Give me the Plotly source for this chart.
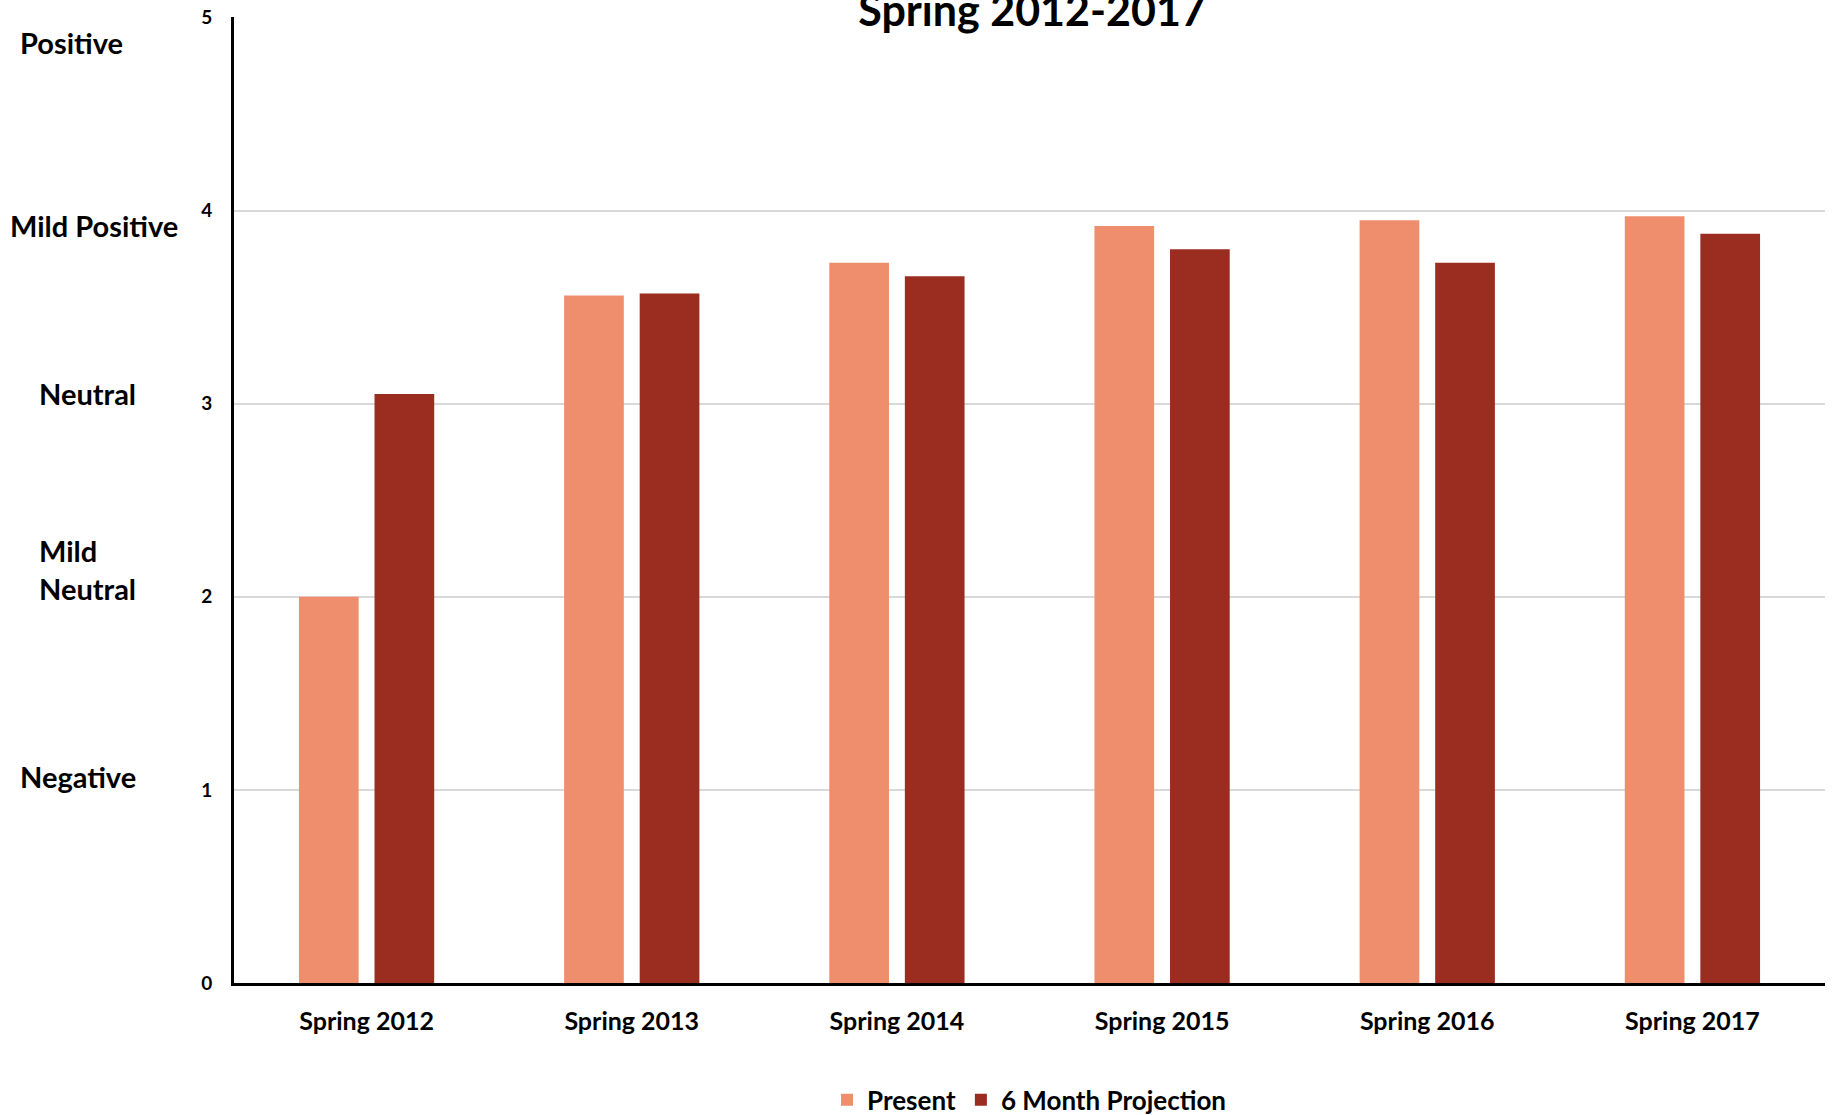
import plotly.graph_objects as go

categories = ["Spring 2012", "Spring 2013", "Spring 2014", "Spring 2015", "Spring 2016", "Spring 2017"]
present = [2.00, 3.56, 3.73, 3.92, 3.95, 3.97]
projection = [3.05, 3.57, 3.66, 3.80, 3.73, 3.88]
series_names = ["Present", "6 Month Projection"]
title_text = "Spring 2012-2017"
y_ticks = [0, 1, 2, 3, 4, 5]
side_labels = ["Positive", "Mild Positive", "Neutral", "Mild<br>Neutral", "Negative"]
side_label_levels = [4.87, 3.92, 3.05, 2.14, 1.07]
side_label_x = [-0.136, -0.142, -0.124, -0.124, -0.136]

C_PRESENT = "#EF8E6C"
C_PROJ = "#9A2D1F"
FONT = "Lato"

W, H = 1835, 1115

fig = go.Figure()
fig.add_trace(go.Bar(x=categories, y=present, name=series_names[0],
                     marker=dict(color=C_PRESENT, line=dict(width=0))))
fig.add_trace(go.Bar(x=categories, y=projection, name=series_names[1],
                     marker=dict(color=C_PROJ, line=dict(width=0))))

for txt, lvl, lx in zip(side_labels, side_label_levels, side_label_x):
    fig.add_annotation(text=txt, x=lx, xref="paper", y=lvl, yref="y",
                       xanchor="left", yanchor="middle", align="left", showarrow=False,
                       font=dict(family=FONT, size=29, color="black", weight="bold"))

fig.update_layout(
    width=W, height=H,
    margin=dict(l=234, r=10, t=17, b=132, autoexpand=False),
    paper_bgcolor="white", plot_bgcolor="white",
    barmode="group", bargap=0.43, bargroupgap=0.21,
    font=dict(family=FONT, color="black"),
    title=dict(text=title_text, x=1032 / W, xanchor="center", xref="container",
               y=1 - 11 / H, yanchor="middle", yref="container",
               font=dict(family=FONT, size=43, color="black", weight="bold")),
    showlegend=True,
    legend=dict(orientation="h", x=0.5, xanchor="center", y=-0.121, yanchor="middle",
                font=dict(family=FONT, size=26, color="black", weight="bold"),
                itemsizing="constant", traceorder="normal", itemwidth=30),
    xaxis=dict(showline=True, linecolor="black", linewidth=3, showgrid=False,
               ticks="", tickfont=dict(family=FONT, size=25, color="black", weight="bold"),
               ticklabelstandoff=14, automargin=False),
    yaxis=dict(range=[0, 5.002], tickvals=y_ticks, showline=True, linecolor="black", linewidth=3,
               showgrid=True, gridcolor="#D9D9D9", gridwidth=2, zeroline=False, ticks="",
               tickfont=dict(family=FONT, size=19, color="black", weight="bold"),
               ticklabelstandoff=15, ticklabeloverflow="allow", automargin=False),
)

fig.write_html("out.html", config={"displayModeBar": False},
               post_script="document.body.style.margin='0';document.body.style.overflow='hidden';")
